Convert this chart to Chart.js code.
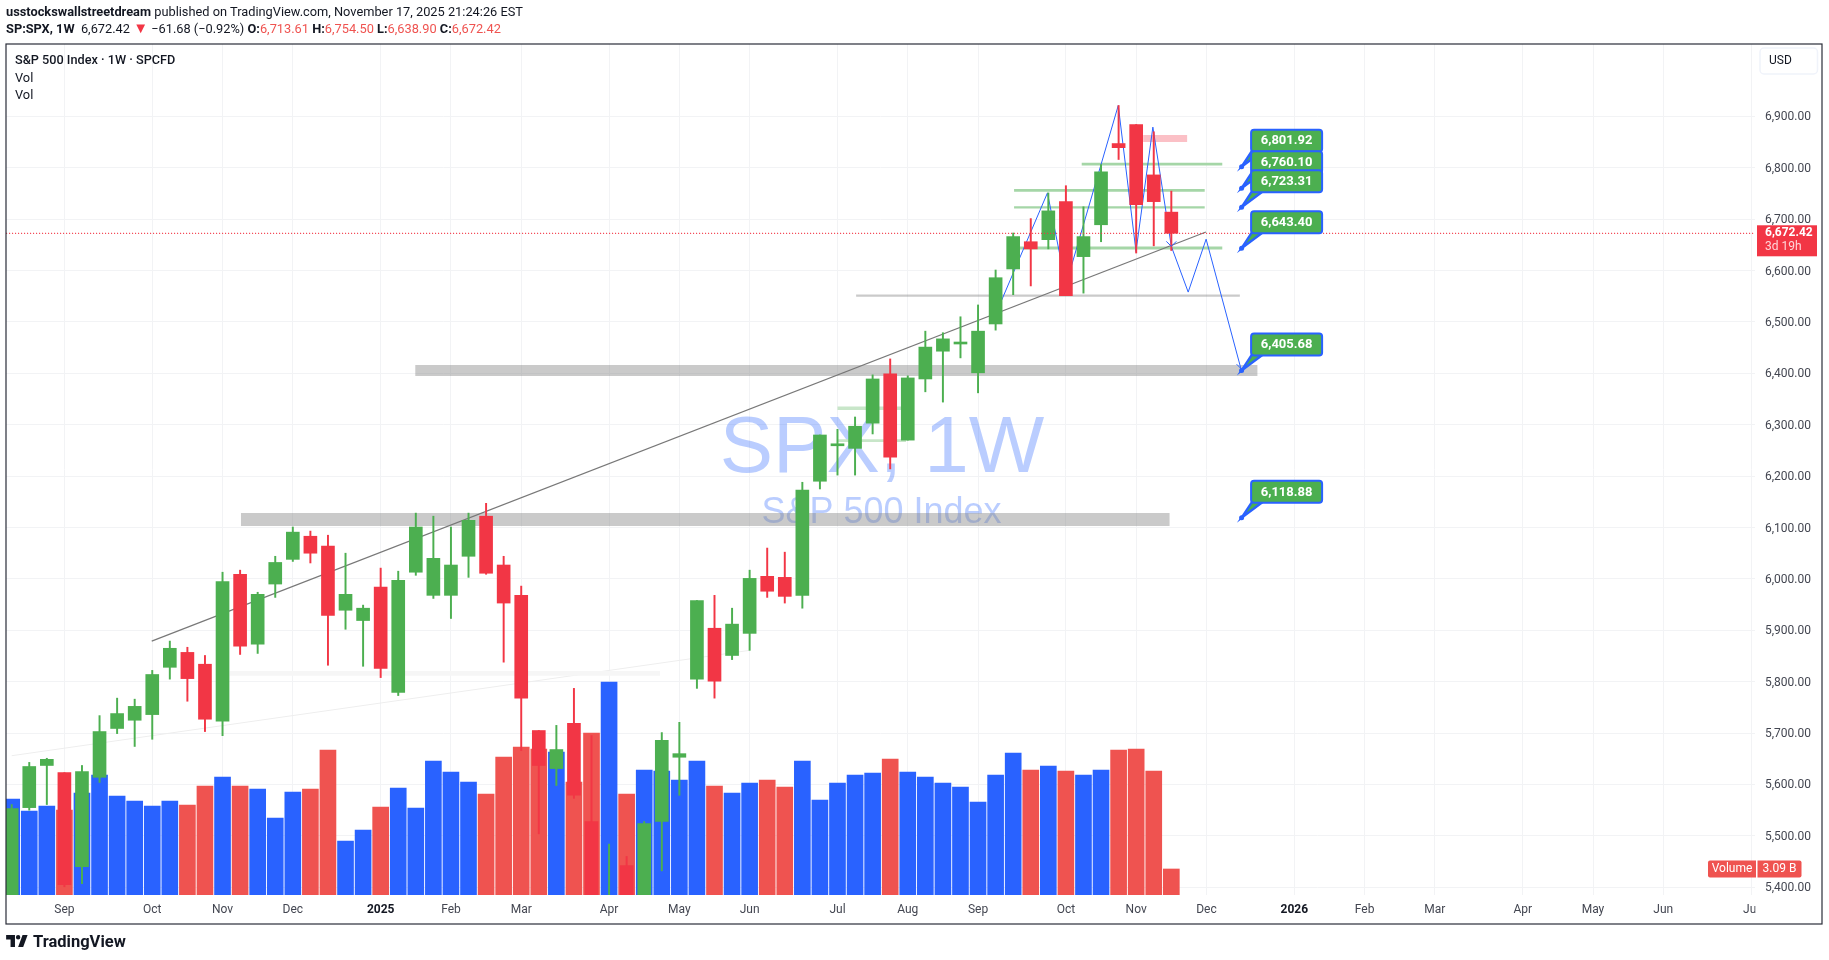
<!DOCTYPE html>
<html>
<head>
<meta charset="utf-8">
<title>SPX 1W</title>
<script src="https://cdn.jsdelivr.net/npm/chart.js@4"></script>
<style>
  html, body { margin: 0; padding: 0; background: #fff; overflow: hidden; }
  body { width: 1829px; height: 960px; position: relative; font-family: Roboto, sans-serif; color: #131722; }
  canvas { position: absolute; left: 0; top: 0; }
  .txt { position: absolute; white-space: pre; font-size: 12.8px; line-height: 16px; z-index: 2; }
  .red { color: #ef5350; }
  b { font-weight: 700; }
</style>
</head>
<body>
<canvas id="spxChart" width="1829" height="960"></canvas>
<div class="txt" style="left:6px;top:4px"><b>usstockswallstreetdream</b> published on TradingView.com, November 17, 2025 21:24:26 EST</div>
<div class="txt" style="left:6px;top:21px"><b>SP:SPX, 1W</b>  6,672.42 <span style="color:#f23645;font-size:15px;line-height:14px">▼</span> −61.68 (−0.92%) <b>O:</b><span class="red">6,713.61</span> <b>H:</b><span class="red">6,754.50</span> <b>L:</b><span class="red">6,638.90</span> <b>C:</b><span class="red">6,672.42</span></div>
<div class="txt" style="left:15px;top:52px;font-weight:500;font-size:12.7px">S&amp;P 500 Index · 1W · SPCFD</div>
<div class="txt" style="left:15px;top:70px">Vol</div>
<div class="txt" style="left:15px;top:87px">Vol</div>
<svg style="position:absolute;left:6px;top:935px" width="23" height="12" viewBox="0 0 36 19"><path fill="#131722" d="M14 0H0v7h7v12h7V0Zm13 19h-8l7-19h8l-7 19ZM19 0a3.5 3.5 0 1 1 0 7 3.5 3.5 0 0 1 0-7Z"/></svg>
<div class="txt" style="left:33px;top:931px;font-size:16.5px;line-height:22px;font-weight:700">TradingView</div>

<script>
// weekly candles, first one is the week of Aug 12 2024
const opens = [5353,5555,5637,5623,5440,5614,5709,5725,5736,5828,5857,5834,5723,6009,5873,5990,6038,6083,6064,5939,5919,5984,5779,6013,5968,5968,6044,6122,6027,5968,5705,5631,5719,5528,4953,5442,5276,5528,5653,5805,5904,5851,5894,6005,6003,5968,6190,6259,6254,6303,6399,6270,6389,6443,6457,6401,6496,6603,6656,6660,6734,6627,6689,6847,6884,6786,6713.61];
const highs = [5561,5643,5651,5623,5637,5734,5768,5766,5822,5879,5867,5851,6013,6017,5974,6044,6101,6093,6085,6050,5949,6021,6015,6128,6122,6101,6128,6147,6044,5986,5705,5715,5787,5695,5484,5460,5528,5701,5721,5958,5968,5943,6017,6060,6052,6188,6280,6291,6315,6397,6428,6395,6482,6479,6510,6533,6601,6673,6701,6751,6765,6724,6806,6921,6884,6870,6754.5];
const lows = [5340,5550,5561,5401,5407,5604,5699,5674,5688,5805,5762,5703,5695,5853,5855,5964,6034,6031,5832,5902,5830,5808,5773,6007,5962,5923,6003,6009,5838,5666,5504,5598,5573,5074,4835,5220,5270,5432,5579,5787,5768,5843,5861,5964,5953,5943,6175,6202,6202,6282,6214,6270,6364,6344,6430,6362,6484,6553,6570,6642,6551,6556,6656,6816,6634,6648,6638.9];
const closes = [5553,5635,5649,5405,5625,5703,5738,5752,5814,5865,5806,5727,5995,5869,5970,6032,6091,6050,5929,5970,5943,5826,5997,6101,6040,6027,6114,6011,5953,5768,5637,5668,5579,5074,5363,5283,5524,5686,5660,5958,5801,5912,6001,5976,5966,6173,6280,6260,6297,6389,6237,6391,6451,6467,6459,6482,6586,6666,6642,6716,6551,6666,6792,6839,6728,6734,6672.42];

// volume in billions, flag 1 = red bar
const volumes = [11.40,9.98,10.57,10.10,12.12,14.26,11.76,11.17,10.57,11.17,10.69,12.95,14.02,12.95,12.59,9.15,12.24,12.59,17.23,6.42,7.72,10.45,12.71,10.34,15.92,14.61,13.42,12.00,16.39,17.58,17.34,16.99,13.42,19.25,25.30,12.00,14.85,14.73,13.66,15.92,12.95,12.12,13.31,13.66,12.83,15.92,11.29,13.31,14.26,14.49,16.16,14.61,14.02,13.31,12.83,11.05,14.26,16.87,14.85,15.33,14.73,14.26,14.85,17.23,17.34,14.73,3.09];
const volumeDown = [0,0,0,1,0,0,0,0,0,0,1,1,0,1,0,0,0,1,1,0,0,1,0,0,0,0,0,1,1,1,1,0,1,1,0,1,0,0,0,0,1,0,0,1,1,0,0,0,0,0,1,0,0,0,0,0,0,0,1,0,1,0,0,1,1,1,1];

const priceTicks = [5400,5500,5600,5700,5800,5900,6000,6100,6200,6300,6400,6500,6600,6700,6800,6900];
const monthTicks = [3,8,12,16,21,25,29,34,38,42,47,51,55,60,64,68,73,77,81,86,90,94,99];
const monthLabels = ['Sep','Oct','Nov','Dec','2025','Feb','Mar','Apr','May','Jun','Jul','Aug','Sep','Oct','Nov','Dec','2026','Feb','Mar','Apr','May','Jun','Jul'];

const lastPrice = 6672.42;

// drawn levels on the chart: price, first week, last week
const greyLevels = [6115.5, 6405.5, 6551];
const greyStart = [13.05, 22.97, 48.06];
const greyEnd = [65.9, 70.9, 69.9];
const greenLevels = [6807, 6756, 6723, 6644, 6332, 6269];
const greenStart = [60.9, 57.05, 57.05, 57.2, 47, 47];
const greenEnd = [68.9, 67.9, 67.9, 68.9, 50.66, 50.9];
const pinkLevel = [6857];
const pinkStart = [64.4];
const pinkEnd = [66.9];
const paleLevel = [5816];
const paleStart = [12.4];
const paleEnd = [36.9];

// trend lines and the projected path
const trendWeeks = [7.97, 67.97];
const trendPrices = [5879, 6675];
const paleTrendWeeks = [0, 42];
const paleTrendPrices = [5656, 5861];
const pathWeeks = [55.99, 58.95, 60, 62.98, 63.99, 64.95, 66, 66.96, 67.98, 69.97];
const pathPrices = [6514, 6751, 6572, 6921, 6637, 6879, 6647, 6558, 6661, 6408];

// price callouts, all anchored on the same week
const calloutWeek = 70;
const calloutValues = [6801.92, 6760.10, 6723.31, 6643.40, 6405.68, 6118.88];

const weeks = opens.map((_, i) => i);
const GREEN = '#4caf50', RED = '#f23645', BLUE = '#2962ff';
const AXIS_FONT = 'Roboto, sans-serif';

function flatLine(price, from, to, color, width, order) {
  return {
    type: 'line',
    data: [{ x: from, y: price }, { x: to, y: price }],
    borderColor: color, borderWidth: width, borderCapStyle: 'butt',
    pointRadius: 0, yAxisID: 'y', order: order
  };
}

function pathLine(xs, ys, color, width, order) {
  return {
    type: 'line',
    data: xs.map((x, i) => ({ x: x, y: ys[i] })),
    borderColor: color, borderWidth: width, tension: 0,
    pointRadius: 0, yAxisID: 'y', order: order
  };
}

const candleColors = closes.map((c, i) => c >= opens[i] ? GREEN : RED);
const datasets = [];

datasets.push({
  type: 'bar', label: 'Volume', yAxisID: 'vol', order: 50, grouped: false,
  data: weeks.map(i => ({ x: i, y: volumes[i] })),
  backgroundColor: volumeDown.map(d => d ? '#ef5350' : BLUE),
  barThickness: 16
});
const greyWidths = [13, 11, 2.2];
greyLevels.forEach((p, i) => datasets.push(flatLine(p, greyStart[i], greyEnd[i], 'rgba(128,128,128,0.42)', greyWidths[i], 40)));
const greenWidths = [2.6, 2.6, 2.2, 3, 3.4, 2.8];
const greenColors = ['#a5d6a7', '#a5d6a7', '#a5d6a7', '#a5d6a7', '#c8e6c9', '#c8e6c9'];
greenLevels.forEach((p, i) => datasets.push(flatLine(p, greenStart[i], greenEnd[i], greenColors[i], greenWidths[i], 40)));
datasets.push(flatLine(pinkLevel[0], pinkStart[0], pinkEnd[0], '#fbc0c6', 7, 40));
datasets.push(flatLine(paleLevel[0], paleStart[0], paleEnd[0], '#f6f6f6', 4.7, 45));
datasets.push(pathLine(paleTrendWeeks, paleTrendPrices, '#eeeeee', 1, 45));
datasets.push(pathLine(trendWeeks, trendPrices, '#787878', 1.2, 30));
datasets.push(pathLine(pathWeeks, pathPrices, BLUE, 1, 30));
datasets.push(flatLine(lastPrice, -1, 100, RED, 1.3, 5));
datasets[datasets.length - 1].borderDash = [1, 2];

datasets.push({
  type: 'bar', label: 'Wicks', yAxisID: 'y', order: 20, grouped: false,
  data: weeks.map(i => ({ x: i, y: [lows[i], highs[i]] })),
  backgroundColor: candleColors, barThickness: 1.3
});
datasets.push({
  type: 'bar', label: 'Bodies', yAxisID: 'y', order: 10, grouped: false,
  data: weeks.map(i => ({ x: i, y: [Math.min(opens[i], closes[i]), Math.max(opens[i], closes[i])] })),
  backgroundColor: candleColors, barThickness: 13, minBarLength: 2
});

// grid is done, put the watermark under the marks
const watermark = {
  id: 'watermark',
  beforeDatasetsDraw(chart) {
    const c = chart.ctx;
    c.save();
    c.fillStyle = 'rgba(41,98,255,0.32)';
    c.textAlign = 'center';
    c.textBaseline = 'alphabetic';
    c.font = '80px "Liberation Sans", Arial, sans-serif';
    c.fillText('SPX, 1W', 882, 472);
    c.font = '36px "Liberation Sans", Arial, sans-serif';
    c.fillText('S&P 500 Index', 881.5, 523);
    c.restore();
  }
};

function roundBox(c, x, y, w, h, r) {
  c.beginPath();
  c.roundRect(x, y, w, h, r);
}

function arrowHead(c, x, y, dx, dy) {
  c.beginPath();
  c.moveTo(x + dx, y - dy);
  c.lineTo(x, y);
  c.lineTo(x - dx, y - dy);
  c.stroke();
}

const overlays = {
  id: 'overlays',
  afterDraw(chart) {
    const c = chart.ctx, xs = chart.scales.x, ys = chart.scales.y, vs = chart.scales.vol;
    c.save();

    // arrow heads of the projected path
    c.strokeStyle = BLUE;
    c.lineWidth = 1;
    arrowHead(c, xs.getPixelForValue(66), ys.getPixelForValue(6647), 5, 5);
    arrowHead(c, xs.getPixelForValue(70), ys.getPixelForValue(6408), 5, 5);

    // callouts
    const ax = xs.getPixelForValue(calloutWeek);
    c.textAlign = 'center';
    c.textBaseline = 'middle';
    calloutValues.forEach(v => {
      const ay = ys.getPixelForValue(v);
      const bx = ax + 9.5, by = ay - 37;
      c.beginPath();
      c.moveTo(bx + 1, by + 21);
      c.lineTo(ax, ay);
      c.lineTo(bx + 12, by + 21);
      c.closePath();
      c.fillStyle = GREEN;
      c.strokeStyle = BLUE;
      c.lineWidth = 2.4;
      c.fill();
      c.stroke();
      c.beginPath();
      c.arc(ax, ay, 2.5, 0, Math.PI * 2);
      c.fillStyle = BLUE;
      c.fill();
      c.lineWidth = 2;
      roundBox(c, bx, by, 71, 22, 3);
      c.fillStyle = GREEN;
      c.fill();
      c.stroke();
      c.fillStyle = '#fff';
      c.font = '700 13px ' + AXIS_FONT;
      c.fillText(v.toLocaleString('en-US', { minimumFractionDigits: 2 }), bx + 35.5, by + 11.5);
    });

    // price axis clips the month labels
    c.fillStyle = '#fff';
    c.fillRect(1755.5, 897, 60, 25);

    // last price tag
    const py = ys.getPixelForValue(lastPrice);
    c.fillStyle = RED;
    c.fillRect(1757, py - 8, 60, 31);
    c.textAlign = 'left';
    c.fillStyle = '#fff';
    c.font = '700 12px ' + AXIS_FONT;
    c.fillText(lastPrice.toLocaleString('en-US'), 1765, py);
    c.fillStyle = '#ffd5d8';
    c.font = '12px ' + AXIS_FONT;
    c.fillText('3d 19h', 1765, py + 14);

    // volume tag
    const vy = vs.getPixelForValue(volumes[volumes.length - 1]);
    c.fillStyle = '#ef5350';
    roundBox(c, 1708, vy - 8.5, 48, 17, [2, 0, 0, 2]);
    c.fill();
    roundBox(c, 1757.5, vy - 8.5, 44, 17, [0, 2, 2, 0]);
    c.fill();
    c.fillStyle = '#fff';
    c.font = '12px ' + AXIS_FONT;
    c.textAlign = 'center';
    c.fillText('Volume', 1732, vy + 0.5);
    c.fillText('3.09 B', 1779.5, vy + 0.5);

    // currency button
    c.strokeStyle = '#f0f3fa';
    c.lineWidth = 1.5;
    roundBox(c, 1760, 48, 57.5, 26, 4);
    c.stroke();
    c.fillStyle = '#131722';
    c.textAlign = 'left';
    c.fillText('USD', 1769, 61);

    // frame
    c.strokeStyle = '#2a2e39';
    c.lineWidth = 1.2;
    c.strokeRect(6, 44, 1816, 880);
    c.restore();
  }
};

new Chart(document.getElementById('spxChart').getContext('2d'), {
  data: { datasets: datasets },
  plugins: [watermark, overlays],
  options: {
    responsive: false,
    animation: false,
    layout: { padding: { left: 6, top: 44, right: 7, bottom: 36 } },
    plugins: { legend: { display: false }, tooltip: { enabled: false } },
    scales: {
      x: {
        type: 'linear',
        offset: false,
        min: -0.324,
        max: 99.22,
        afterBuildTicks: s => { s.ticks = monthTicks.map(v => ({ value: v })); },
        afterFit: s => { s.height = 29; s.paddingLeft = 0; s.paddingRight = 0; },
        grid: { color: '#f2f3f5', drawTicks: false, offset: false },
        border: { display: false },
        ticks: {
          autoSkip: false,
          maxRotation: 0,
          padding: 8,
          color: ctx => /^20/.test(monthLabels[ctx.index]) ? '#131722' : '#434651',
          font: ctx => ({ family: AXIS_FONT, size: 12, weight: /^20/.test(monthLabels[ctx.index]) ? '700' : '400' }),
          callback: (v, i) => monthLabels[i]
        }
      },
      y: {
        position: 'right',
        min: 5385,
        max: 7040.7,
        afterBuildTicks: s => { s.ticks = priceTicks.map(v => ({ value: v })); },
        afterFit: s => { s.width = 67; s.paddingTop = 0; s.paddingBottom = 0; },
        grid: { color: '#f2f3f5', drawTicks: false },
        border: { display: false },
        ticks: {
          padding: 10,
          labelOffset: 1,
          color: '#434651',
          font: { family: AXIS_FONT, size: 12 },
          callback: v => v.toLocaleString('en-US', { minimumFractionDigits: 2 })
        }
      },
      vol: { display: false, min: 0, max: 101.1 }
    }
  }
});
</script>
</body>
</html>
